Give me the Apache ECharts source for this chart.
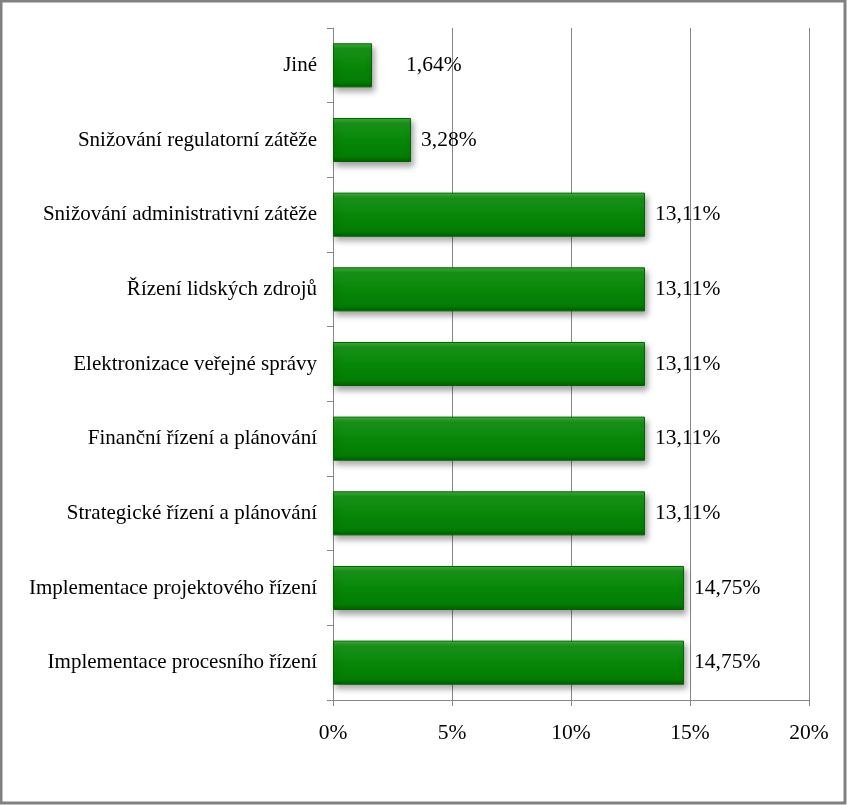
<!DOCTYPE html>
<html>
<head>
<meta charset="utf-8">
<script src="https://cdn.jsdelivr.net/npm/echarts@6/dist/echarts.min.js"></script>
<style>
html,body{margin:0;padding:0;background:#fff;}
#chart{width:847px;height:805px;}
</style>
</head>
<body>
<div id="chart"></div>
<script>
const categories = [
  'Jiné',
  'Snižování regulatorní zátěže',
  'Snižování administrativní zátěže',
  'Řízení lidských zdrojů',
  'Elektronizace veřejné správy',
  'Finanční řízení a plánování',
  'Strategické řízení a plánování',
  'Implementace projektového řízení',
  'Implementace procesního řízení'
];
const values = [1.64, 3.28, 13.11, 13.11, 13.11, 13.11, 13.11, 14.75, 14.75];
const xTicks = [0, 5, 10, 15, 20];

const FONT = '"Liberation Serif", "Times New Roman", serif';
const chart = echarts.init(document.getElementById('chart'), null, {renderer: 'canvas'});

const barGradient = new echarts.graphic.LinearGradient(0, 0, 0, 1, [
  {offset: 0, color: '#3fb13f'},
  {offset: 0.12, color: '#1a931a'},
  {offset: 0.5, color: '#078707'},
  {offset: 0.88, color: '#047c04'},
  {offset: 1, color: '#005c00'}
]);

const option = {
  animation: false,
  backgroundColor: '#ffffff',
  graphic: [{
    type: 'rect',
    shape: {x: 1, y: 1, width: 844, height: 802},
    style: {fill: 'none', stroke: '#808080', lineWidth: 3},
    silent: true
  }],
  grid: {left: 333, right: 38, top: 28, bottom: 105, containLabel: false},
  xAxis: {
    type: 'value',
    min: xTicks[0],
    max: xTicks[xTicks.length - 1],
    interval: xTicks[1] - xTicks[0],
    axisLine: {show: true, lineStyle: {color: '#868686', width: 1}},
    axisTick: {show: true, length: 6, lineStyle: {color: '#868686'}},
    splitLine: {show: true, lineStyle: {color: '#868686', width: 1}},
    axisLabel: {
      formatter: v => v + '%',
      color: '#000', fontFamily: FONT, fontSize: 21.5, margin: 22
    }
  },
  yAxis: {
    type: 'category',
    inverse: true,
    data: categories,
    axisLine: {show: true, lineStyle: {color: '#868686', width: 1}},
    axisTick: {show: true, length: 6, lineStyle: {color: '#868686'}},
    axisLabel: {color: '#000', fontFamily: FONT, fontSize: 21, margin: 16}
  },
  series: [{
    type: 'bar',
    data: values.map((v, i) => i === 0 ? {value: v, label: {offset: [24, 0]}} : v),
    barCategoryGap: '41%',
    itemStyle: {
      color: barGradient,
      borderColor: '#006400',
      borderWidth: 1,
      shadowColor: 'rgba(0,0,0,0.35)',
      shadowBlur: 6,
      shadowOffsetX: 2,
      shadowOffsetY: 4
    },
    label: {
      show: true,
      position: 'right',
      distance: 10,
      formatter: p => p.value.toFixed(2).replace('.', ',') + '%',
      color: '#000',
      fontFamily: FONT,
      fontSize: 21.5
    }
  }]
};
chart.setOption(option);
</script>
</body>
</html>
